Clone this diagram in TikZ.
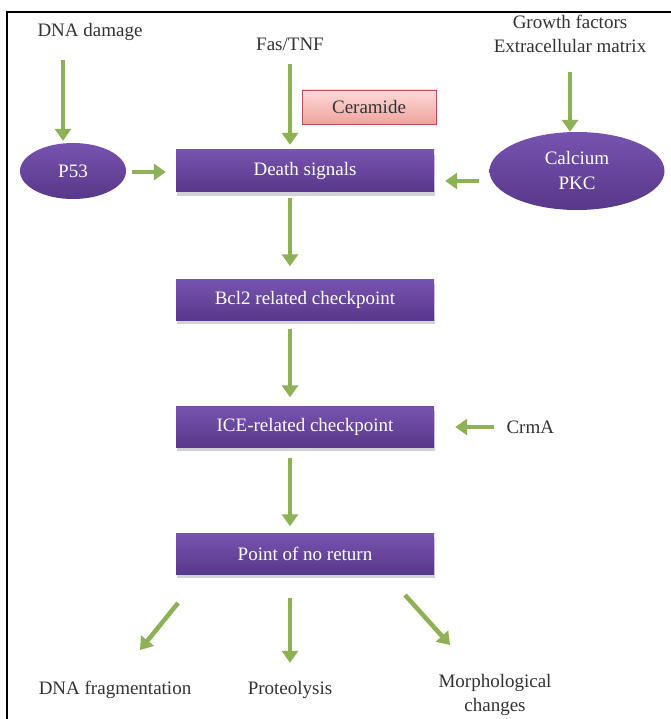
\documentclass[tikz,border=0pt]{standalone}
\usepackage{fontspec}
\newfontfamily\serf{Liberation Serif}
\usetikzlibrary{arrows.meta,shapes.geometric}
\definecolor{purpT}{HTML}{7753B0}
\definecolor{purpB}{HTML}{583889}
\definecolor{shad}{HTML}{D2D2D6}
\definecolor{garrow}{HTML}{8DB255}
\definecolor{cerT}{HTML}{FCDAD8}
\definecolor{cerB}{HTML}{F1A39F}
\definecolor{cerD}{HTML}{C0504D}
\definecolor{txt}{HTML}{333333}
\begin{document}
\begin{tikzpicture}[x=1pt,y=-1pt,
  pbox/.style={rectangle, minimum width=258pt, minimum height=41pt, top color=purpT, bottom color=purpB, draw=none, text=white, font=\fontsize{19}{22}\selectfont\serf},
  pell/.style={ellipse, top color=purpT, bottom color=purpB, draw=none, text=white, align=center, inner sep=0pt, font=\fontsize{19}{25}\selectfont\serf},
  lbl/.style={text=txt, align=center, font=\fontsize{19}{24}\selectfont\serf},
  garr/.style={draw=garrow, line width=4.5pt, -{Triangle[width=16pt,length=12pt]}}
]
\fill[white] (0,0) rectangle (670,719);
\useasboundingbox (0,0) rectangle (670,719);
\draw[line width=2pt] (7,720) -- (7,12) -- (671,12);

% shadows
\fill[shad] (177,155) rectangle (435,196);
\fill[shad] (177,284) rectangle (435,324);
\fill[shad] (177,411) rectangle (435,451);
\fill[shad] (177,538) rectangle (435,578);

% helper columns/rows
\coordinate (c1) at (63,0);
\coordinate (c2) at (290,0);
\coordinate (c3) at (570,0);
\coordinate (r1) at (0,172);
\coordinate (r2) at (0,181);

% nodes
\node[lbl] (dna) at (90,32) {DNA damage};
\node[lbl] (fas) at (290,44) {Fas/TNF};
\node[lbl] (growth) at (570,34) {Growth factors\\Extracellular matrix};
\node[pell, minimum width=106pt, minimum height=56pt] (p53) at (73,171) {P53};
\node[pbox, minimum height=42pt] (dsig) at (305,171) {Death signals};
\node[rectangle, minimum width=134pt, minimum height=34pt, top color=cerT, bottom color=cerB, draw=cerD, line width=0.8pt, text=txt, font=\fontsize{19}{22}\selectfont\serf] (cer) at (369,107) {Ceramide};
\node[pell, minimum width=175pt, minimum height=78pt] (calc) at (577,171) {Calcium\\PKC};
\node[pbox] (bcl) at (305,300) {Bcl2 related checkpoint};
\node[pbox] (ice) at (305,427) {ICE-related checkpoint};
\node[lbl, anchor=west] (crma) at (503,427) {CrmA};
\node[pbox] (ponr) at (305,554) {Point of no return};
\node[lbl] (frag) at (115,690) {DNA fragmentation};
\node[lbl] (prot) at (290,690) {Proteolysis};
\node[lbl] (morph) at (495,695) {Morphological\\changes};

% connectors
\draw[garr, shorten <=16pt, shorten >=2pt] (dna.south -| c1) -- (p53.north -| c1);
\draw[garr, shorten <=10pt, shorten >=5pt] (fas.south -| c2) -- (dsig.north -| c2);
\draw[garr, shorten <=16pt, shorten >=0pt] (growth.south -| c3) -- (calc.north -| c3);
\draw[garr, shorten <=6pt, shorten >=10pt] (p53.east |- r1) -- (dsig.west |- r1);
\draw[garr, shorten <=10pt, shorten >=11pt] (calc.west |- r2) -- (dsig.east |- r2);
\draw[garr, shorten <=6pt, shorten >=13pt] (dsig.south -| c2) -- (bcl.north -| c2);
\draw[garr, shorten <=8pt, shorten >=9pt] (bcl.south -| c2) -- (ice.north -| c2);
\draw[garr, shorten <=9pt, shorten >=21pt] (crma.west) -- (ice.east);
\draw[garr, shorten <=10pt, shorten >=7pt] (ice.south -| c2) -- (ponr.north -| c2);

\coordinate (f0) at (178,603);
\coordinate (f1) at (140,650);
\coordinate (m0) at (405,595);
\coordinate (m1) at (450,645);
\draw[garr] (f0) -- (f1);
\draw[garr, shorten <=23pt, shorten >=15pt] (ponr.south -| c2) -- (prot.north -| c2);
\draw[garr] (m0) -- (m1);
\end{tikzpicture}
\end{document}
